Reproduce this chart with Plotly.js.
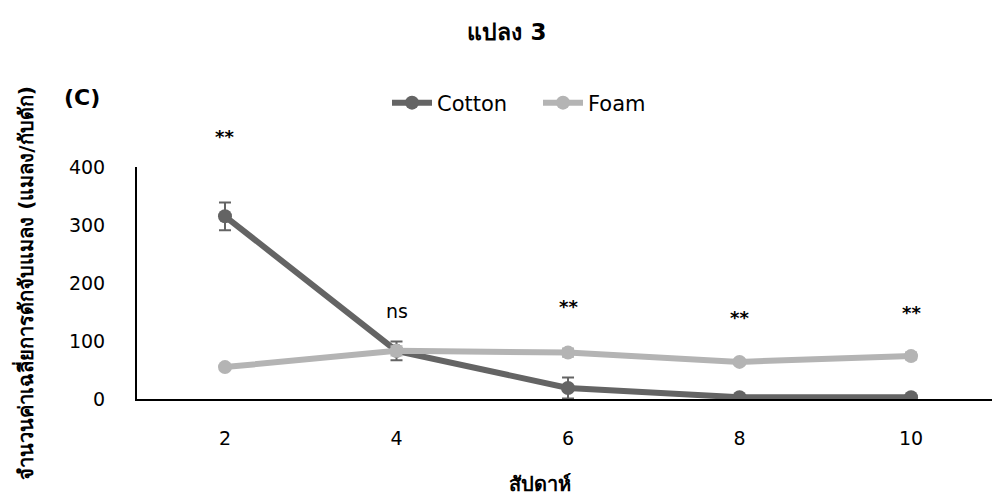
<!DOCTYPE html>
<html><head><meta charset="utf-8">
<script src="https://cdn.plot.ly/plotly-3.0.1.min.js"></script>
<style>html,body{margin:0;padding:0;background:#fff}#chart{width:992px;height:498px}</style>
</head><body><div id="chart"></div>
<script>
const weeks = ['2','4','6','8','10'];
const cotton = [315, 83, 19, 3, 3];
const cottonErr = [24, 16, 18, 0, 0];
const foam = [55, 83, 80, 64, 74];
const foamErr = [3, 8, 7, 4, 6];
const sigLabels = ['**','ns','**','**','**'];
const sigY = [452, 152, 159, 141, 150];

const F = '"DejaVu Sans", "Noto Sans", sans-serif';
const traces = [
  {x: weeks, y: cotton, name: 'Cotton', type: 'scatter', mode: 'lines+markers',
   line: {color: '#646464', width: 6}, marker: {color: '#646464', size: 14},
   error_y: {type: 'data', array: cottonErr, visible: true, color: '#646464', thickness: 2, width: 6}},
  {x: weeks, y: foam, name: 'Foam', type: 'scatter', mode: 'lines+markers',
   line: {color: '#b4b4b4', width: 6}, marker: {color: '#b4b4b4', size: 14},
   error_y: {type: 'data', array: foamErr, visible: true, color: '#b4b4b4', thickness: 2, width: 6}}
];
const PT = 167, PH = 232, PL = 137, PW = 855;
const ann = weeks.map((w, i) => ({x: i, xref: 'x', xanchor: 'center',
  y: sigY[i] / 400, yref: 'paper', yanchor: 'middle',
  text: sigLabels[i] === '**' ? '<b>**</b>' : sigLabels[i],
  showarrow: false, font: {family: F, size: sigLabels[i] === '**' ? 18 : 19, color: '#000'}}));
ann.push({x: (82-PL)/PW, y: 1 + (PT-97)/PH, xref: 'paper', yref: 'paper', xanchor: 'center', yanchor: 'middle',
  text: '<b>(C)</b>', showarrow: false, font: {family: F, size: 22, color: '#000'}});
ann.push({x: (540-PL)/PW, y: -(484-PT-PH)/PH, xref: 'paper', yref: 'paper', xanchor: 'center', yanchor: 'middle',
  text: '<b>สัปดาห์</b>', showarrow: false, font: {family: F, size: 20, color: '#000'}});
const layout = {
  width: 992, height: 498,
  margin: {l: PL, r: 0, t: PT, b: 99},
  paper_bgcolor: '#fff', plot_bgcolor: '#fff',
  title: {text: '<b>แปลง 3</b>', font: {family: F, size: 23, color: '#000'}, x: 507/992, xref: 'container', xanchor: 'center',
    y: 1 - 32/498, yref: 'container', yanchor: 'middle'},
  showlegend: true,
  legend: {orientation: 'h', x: (387-PL)/PW, xanchor: 'left', y: 1 + (PT-103)/PH, yanchor: 'middle',
    font: {family: F, size: 21, color: '#000'}, itemwidth: 40, entrywidth: 96, entrywidthmode: 'pixels',
    bgcolor: 'rgba(0,0,0,0)'},
  xaxis: {type: 'category', range: [-0.513, 4.472], showline: true, linecolor: '#000', linewidth: 2,
    showgrid: false, zeroline: false, ticks: '', ticklabelstandoff: 21,
    tickfont: {family: F, size: 19, color: '#000'}},
  yaxis: {range: [0, 400], tickvals: [0,100,200,300,400], showline: true, linecolor: '#000', linewidth: 2,
    showgrid: false, zeroline: false, ticks: '', ticklabelstandoff: 26,
    tickfont: {family: F, size: 19, color: '#000'},
    title: {text: '<b>จำนวนค่าเฉลี่ยการดักจับแมลง (แมลง/กับดัก)</b>', font: {family: F, size: 20, color: '#000'}, standoff: 30}},
  annotations: ann
};
Plotly.newPlot('chart', traces, layout, {displayModeBar: false, staticPlot: true});
</script></body></html>
